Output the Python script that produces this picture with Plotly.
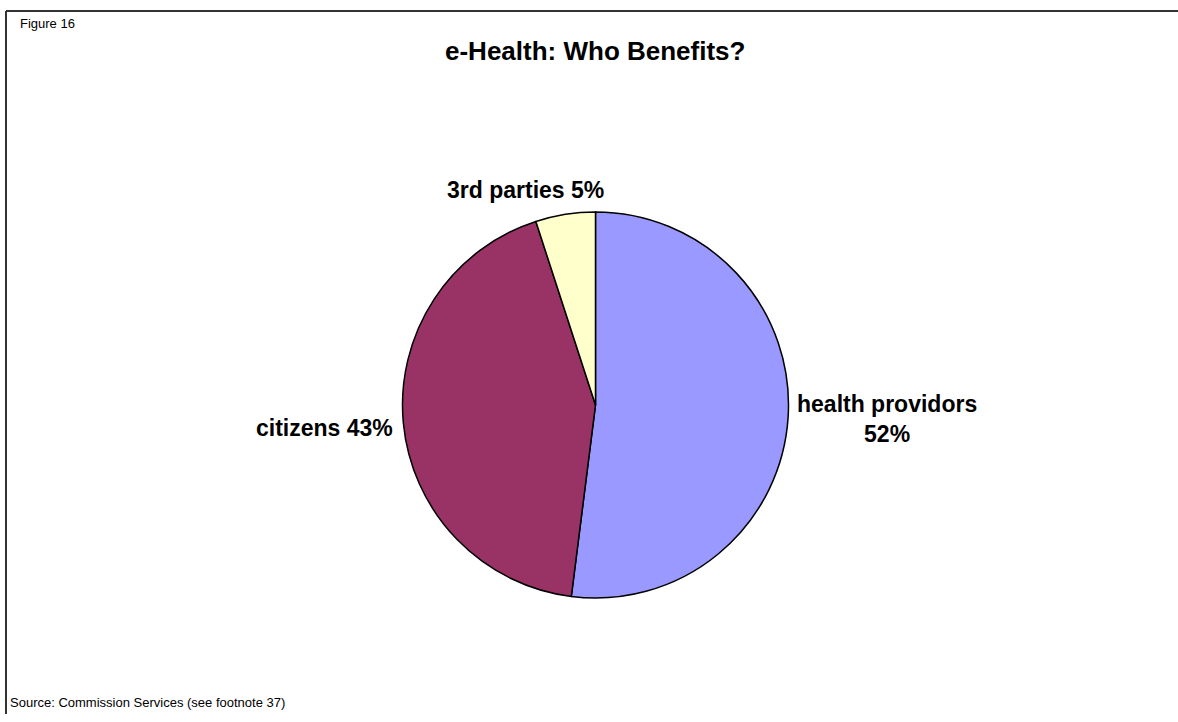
import plotly.graph_objects as go

W, H = 1178, 722

categories = ["health providors", "citizens", "3rd parties"]
values = [52, 43, 5]
colors = ["#9999FF", "#993366", "#FFFFCC"]
label_texts = ["health providors<br>52%", "citizens 43%", "3rd parties 5%"]

title_text = "e-Health: Who Benefits?"
figure_label = "Figure 16"
source_text = "Source: Commission Services (see footnote 37)"

# pie geometry (pixels)
cx, cy, r = 595.5, 405, 193

def px(x):
    return x / W

def py(y):
    return 1 - y / H

fig = go.Figure(go.Pie(
    labels=categories,
    values=values,
    marker=dict(colors=colors, line=dict(color="black", width=1.5)),
    sort=False,
    direction="clockwise",
    rotation=0,
    textinfo="none",
    hoverinfo="label+percent",
    showlegend=False,
    domain=dict(x=[px(cx - r), px(cx + r)], y=[py(cy + r), py(cy - r)]),
))

FONT = "Liberation Sans, Arial, sans-serif"
label_font = dict(family=FONT, size=23, color="black")
# label placements: (x, y, xanchor)
placements = [(887, 419, "center"), (395, 428, "right"), (525, 190, "center")]
for txt, (lx, ly, xa) in zip(label_texts, placements):
    fig.add_annotation(x=px(lx), y=py(ly), xref="paper", yref="paper",
                       text="<b>" + txt + "</b>", showarrow=False,
                       xanchor=xa, yanchor="middle", align="center",
                       font=label_font)

fig.add_annotation(x=px(595), y=py(51), xref="paper", yref="paper",
                   text="<b>" + title_text + "</b>", showarrow=False,
                   xanchor="center", yanchor="middle",
                   font=dict(family=FONT, size=26, color="black"))

fig.add_annotation(x=px(18), y=py(23), xref="paper", yref="paper",
                   text=figure_label, showarrow=False,
                   xanchor="left", yanchor="middle",
                   font=dict(family=FONT, size=13, color="black"))

fig.add_annotation(x=px(8), y=py(702), xref="paper", yref="paper",
                   text=source_text, showarrow=False,
                   xanchor="left", yanchor="middle",
                   font=dict(family=FONT, size=13, color="black"))

# frame lines
fig.add_shape(type="line", xref="paper", yref="paper",
              x0=px(6), x1=px(W), y0=py(11), y1=py(11),
              line=dict(color="#333333", width=2))
fig.add_shape(type="line", xref="paper", yref="paper",
              x0=px(6), x1=px(6), y0=py(11), y1=py(714),
              line=dict(color="#333333", width=2))

fig.update_layout(
    width=W, height=H,
    margin=dict(l=0, r=0, t=0, b=0),
    paper_bgcolor="white",
    plot_bgcolor="white",
)

fig.write_html("out.html", config={"displayModeBar": False},
               post_script="document.body.style.margin='0';")
